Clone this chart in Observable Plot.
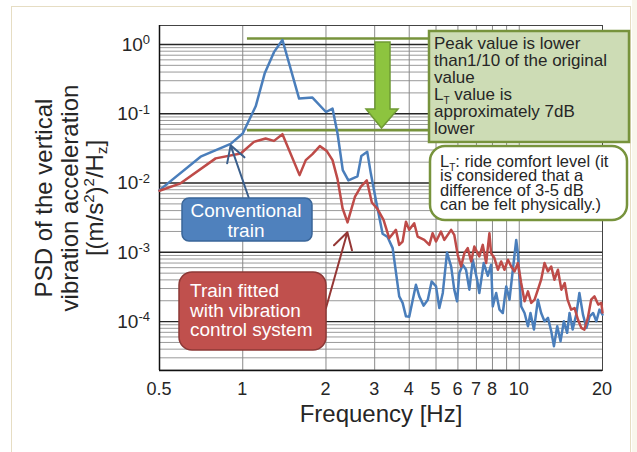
<!DOCTYPE html>
<html><head><meta charset="utf-8">
<script src="https://cdn.jsdelivr.net/npm/d3@7"></script>
<script src="https://cdn.jsdelivr.net/npm/@observablehq/plot@0.6"></script>
<style>
html,body{margin:0;padding:0;background:#fff;width:637px;height:452px;overflow:hidden;}
#frame{position:absolute;left:11px;top:6px;width:620px;height:470px;border:1.5px solid #e6ddc3;box-sizing:border-box;}
#rstrip{position:absolute;left:632px;top:0;width:5px;height:452px;background:#f9f6ec;}
#chart{position:absolute;left:0;top:0;}
</style></head><body>
<div id="rstrip"></div><div id="frame"></div><div id="chart"></div>
<script>
// Conventional train (blue)
const freqBlue = [0.5,0.704,0.904,1.0,1.114,1.2,1.297,1.392,1.599,1.787,2.0,2.112,2.202,2.30,2.41,2.60,2.685,2.82,2.905,3.03,3.205,3.34,3.485,3.68,3.786,3.893,4.0,4.12,4.23,4.35,4.51,4.67,4.82,5.0,5.14,5.29,5.48,5.67,5.82,5.96,6.07,6.25,6.42,6.6,6.79,7.04,7.17,7.44,7.70,7.91,8.02,8.25,8.48,8.72,8.97,9.22,9.48,9.75,9.89,10.16,10.45,10.75,10.98,11.3,11.68,12.0,12.34,12.7,13.05,13.35,13.72,14.1,14.5,14.9,15.2,15.6,16.07,16.5,17.0,17.5,17.96,18.5,19.0,19.5,20.0];
const psdBlue = [0.0079,0.024,0.0368,0.0519,0.128,0.38,0.775,1.16,0.1655,0.171,0.106,0.119,0.0519,0.0154,0.0109,0.0125,0.0245,0.0282,0.0138,0.0057,0.00185,0.00166,0.00115,0.000231,0.000186,0.000119,0.000117,0.000207,0.00034,0.000231,0.00017,0.000207,0.00038,0.000322,0.000157,0.000259,0.000993,0.000625,0.000289,0.000196,0.000502,0.00066,0.00056,0.000289,0.00078,0.000402,0.000259,0.0007,0.000459,0.00066,0.000166,0.000259,0.000149,0.000133,0.000322,0.000207,0.00056,0.00151,0.00097,0.000166,0.000133,0.0000855,0.000133,0.0000767,0.000207,0.000133,0.000101,0.000113,0.0000725,0.0000442,0.0000855,0.0000521,0.000101,0.0000688,0.000133,0.0000767,0.000126,0.000259,0.000126,0.0000811,0.000119,0.000133,0.000101,0.000149,0.000126];
// Train fitted with vibration control system (red)
const freqRed = [0.5,0.596,0.798,0.983,1.098,1.21,1.297,1.392,1.605,1.69,1.787,1.90,2.014,2.112,2.202,2.296,2.393,2.544,2.675,2.81,2.93,3.07,3.23,3.385,3.58,3.68,3.786,3.893,4.0,4.17,4.29,4.535,4.73,4.86,5.0,5.21,5.36,5.67,5.82,5.99,6.16,6.33,6.51,6.70,6.88,7.17,7.38,7.59,7.80,7.91,8.13,8.37,8.60,8.84,9.10,9.35,9.61,9.89,10.16,10.45,10.75,11.05,11.36,11.68,12.0,12.34,12.7,13.05,13.4,13.8,14.2,14.6,14.95,15.4,15.85,16.3,16.76,17.2,17.7,18.2,18.7,19.3,19.8,20.0];
const psdRed = [0.00775,0.0099,0.0227,0.0267,0.0393,0.044,0.0406,0.0507,0.013,0.0214,0.0261,0.0341,0.0289,0.0214,0.0114,0.00432,0.0027,0.00629,0.00885,0.0109,0.00524,0.00423,0.00294,0.0016,0.00211,0.00128,0.00143,0.00277,0.00211,0.00263,0.00169,0.00151,0.00128,0.00189,0.00143,0.00199,0.00151,0.00211,0.00179,0.00092,0.000625,0.00097,0.00115,0.000738,0.00121,0.00087,0.00128,0.0007,0.00189,0.00097,0.000826,0.00056,0.000738,0.00056,0.00078,0.000625,0.00053,0.0007,0.00036,0.000196,0.000273,0.000186,0.000207,0.000289,0.000402,0.0007,0.00053,0.000625,0.000402,0.00056,0.000289,0.00036,0.000207,0.000149,0.000157,0.000107,0.0000811,0.0000767,0.000113,0.000207,0.000231,0.000176,0.000186,0.000135];
const xTickLabels = [0.5,1,2,3,4,5,6,7,8,10,20];
const xGridLines = [1,2,3,4,5,6,7,8,9,10,20];
const yTickExponents = [0,-1,-2,-3,-4];
const levelLines = [1.22, 0.0577]; // peak level, reduced level
const W = 637, H = 452;
const yDomain = [Math.pow(10,-4.706), Math.pow(10,0.274)];

const blue = freqBlue.map((f,i)=>({f, v: psdBlue[i]}));
const red = freqRed.map((f,i)=>({f, v: psdRed[i]}));
const yMinor = [], yMajor = [];
for (let k=-5;k<=0;k++){ for (let m=1;m<=9;m++){ const v=m*Math.pow(10,k); if (v>yDomain[0]*1.01 && v<yDomain[1]) (m===1?yMajor:yMinor).push(v);} }

const font = "Liberation Sans, Arial, Helvetica, sans-serif";
const plot = Plot.plot({
  width: W, height: H,
  marginLeft: 159, marginRight: 35, marginTop: 25, marginBottom: 82,
  x: {type: "log", domain: [0.5, 20], axis: null},
  y: {type: "log", domain: yDomain, axis: null},
  style: {fontFamily: font, background: "transparent", color: "#262626"},
  marks: [
    Plot.ruleY(yMinor, {stroke: "#9a9a9a", strokeWidth: 1}),
    Plot.ruleX(xGridLines, {stroke: "#8a8a8a", strokeWidth: 1}),
    Plot.ruleY(yMajor, {stroke: "#262626", strokeWidth: 1.4}),
    Plot.frame({stroke: "#444", strokeWidth: 1}),
    Plot.ruleX([0.5], {stroke: "#111", strokeWidth: 1.5}),
    Plot.ruleY([yDomain[0]], {stroke: "#111", strokeWidth: 1.5}),
    Plot.ruleY(levelLines, {x1: 1.04, x2: 4.8, stroke: "#77933c", strokeWidth: 2.5}),
    Plot.line(blue, {x: "f", y: "v", stroke: "#4a7ebb", strokeWidth: 2.5, strokeLinejoin: "round"}),
    Plot.line(red, {x: "f", y: "v", stroke: "#be4b48", strokeWidth: 2.5, strokeLinejoin: "round"}),
    Plot.arrow([{x1: 1.05, y1: 0.00624, x2: 0.904, y2: 0.035}], {x1: "x1", y1: "y1", x2: "x2", y2: "y2", stroke: "#3b5f8c", strokeWidth: 2, headLength: 14}),
    Plot.arrow([{x1: 2.0, y1: 0.000157, x2: 2.39, y2: 0.00195}], {x1: "x1", y1: "y1", x2: "x2", y2: "y2", stroke: "#953735", strokeWidth: 2, headLength: 14})
  ]
});
document.getElementById("chart").appendChild(plot);
const svg = d3.select(plot);
const xs = plot.scale("x"), ys = plot.scale("y");

// x tick labels
xTickLabels.forEach(f => {
  svg.append("text").attr("x", xs.apply(f)).attr("y", 389).attr("dy","0.36em")
    .attr("text-anchor","middle").attr("font-family",font).attr("font-size",18).attr("fill","#262626").text(String(f));
});
// y tick labels with superscripts
yTickExponents.forEach(e => {
  const t = svg.append("text").attr("x", 150).attr("y", ys.apply(Math.pow(10,e))).attr("dy","0.36em")
    .attr("text-anchor","end").attr("font-family",font).attr("font-size",19).attr("fill","#262626");
  t.append("tspan").text("10");
  t.append("tspan").attr("dy","-0.5em").attr("font-size",13).text(String(e));
});

// axis titles
svg.append("text").attr("x", 381).attr("y", 422).attr("text-anchor","middle")
  .attr("font-family",font).attr("font-size",24).attr("fill","#262626").text("Frequency [Hz]");
function vtext(cx, build){
  const t = svg.append("text").attr("transform",`translate(${cx},198) rotate(-90)`).attr("dy","0.35em")
    .attr("text-anchor","middle").attr("font-family",font).attr("font-size",24).attr("fill","#262626");
  build(t);
}
vtext(44, t => t.text("PSD of the vertical"));
vtext(70, t => t.text("vibration acceleration"));
vtext(95, t => {
  t.append("tspan").text("[(m/s");
  t.append("tspan").attr("dy",-9).attr("font-size",15).text("2");
  t.append("tspan").attr("dy",9).text(")");
  t.append("tspan").attr("dy",-9).attr("font-size",15).text("2");
  t.append("tspan").attr("dy",9).text("/H");
  t.append("tspan").attr("dy",4).attr("font-size",15).text("z");
  t.append("tspan").attr("dy",-4).text("]");
});

// big green arrow
svg.append("path").attr("d","M375,42 L390,42 L390,109 L398,109 L381.5,128 L366,109 L375,109 Z")
  .attr("fill","#8dc43f").attr("stroke","#6f9a34").attr("stroke-width",1.5);

// green note box
svg.append("rect").attr("x",429).attr("y",31).attr("width",200).attr("height",111)
  .attr("fill","#cddcb5").attr("stroke","#77933c").attr("stroke-width",2.5);
const g1 = svg.append("text").attr("text-anchor","start").attr("font-family",font).attr("font-size",17).attr("fill","#262626");
[["Peak value is lower",49],["than1/10 of the original",66],["value",83]].forEach(([s,y])=>
  g1.append("tspan").attr("x",434).attr("y",y).text(s));
const lt = svg.append("text").attr("text-anchor","start").attr("x",434).attr("y",100).attr("font-family",font).attr("font-size",17).attr("fill","#262626");
lt.append("tspan").text("L");
lt.append("tspan").attr("dy",4).attr("font-size",10).text("T");
lt.append("tspan").attr("dy",-4).text(" value is");
const g2 = svg.append("text").attr("text-anchor","start").attr("font-family",font).attr("font-size",17).attr("fill","#262626");
[["approximately 7dB",117],["lower",134]].forEach(([s,y])=>
  g2.append("tspan").attr("x",434).attr("y",y).text(s));

// rounded note box
svg.append("rect").attr("x",430).attr("y",146).attr("width",197).attr("height",74).attr("rx",15)
  .attr("fill","#fff").attr("stroke","#77933c").attr("stroke-width",2.5);
const r1 = svg.append("text").attr("text-anchor","start").attr("x",440).attr("y",167).attr("font-family",font).attr("font-size",16.5).attr("fill","#262626");
r1.append("tspan").text("L");
r1.append("tspan").attr("dy",4).attr("font-size",10).text("T");
r1.append("tspan").attr("dy",-4).text(": ride comfort level (it");
const r2 = svg.append("text").attr("text-anchor","start").attr("font-family",font).attr("font-size",16.5).attr("fill","#262626");
[["is considered that a",181],["difference of 3-5 dB",195.5],["can be felt physically.)",210]].forEach(([s,y])=>
  r2.append("tspan").attr("x",440).attr("y",y).text(s));

// conventional train label
svg.append("rect").attr("x",182).attr("y",198).attr("width",130).attr("height",43).attr("rx",7)
  .attr("fill","#4f81bd").attr("stroke","#3a6699").attr("stroke-width",1.5);
const c1 = svg.append("text").attr("text-anchor","middle").attr("font-family",font).attr("font-size",19).attr("fill","#fff");
[["Conventional",217],["train",237]].forEach(([s,y])=> c1.append("tspan").attr("x",246).attr("y",y).text(s));

// vibration control label
svg.append("rect").attr("x",179).attr("y",272).attr("width",147).attr("height",78).attr("rx",13)
  .attr("fill","#c0504d").attr("stroke","#8c3836").attr("stroke-width",1.5);
const c2 = svg.append("text").attr("text-anchor","start").attr("font-family",font).attr("font-size",19).attr("fill","#fff");
[["Train fitted",297],["with vibration",317],["control system",336]].forEach(([s,y])=> c2.append("tspan").attr("x",190).attr("y",y).text(s));
</script>
</body></html>
